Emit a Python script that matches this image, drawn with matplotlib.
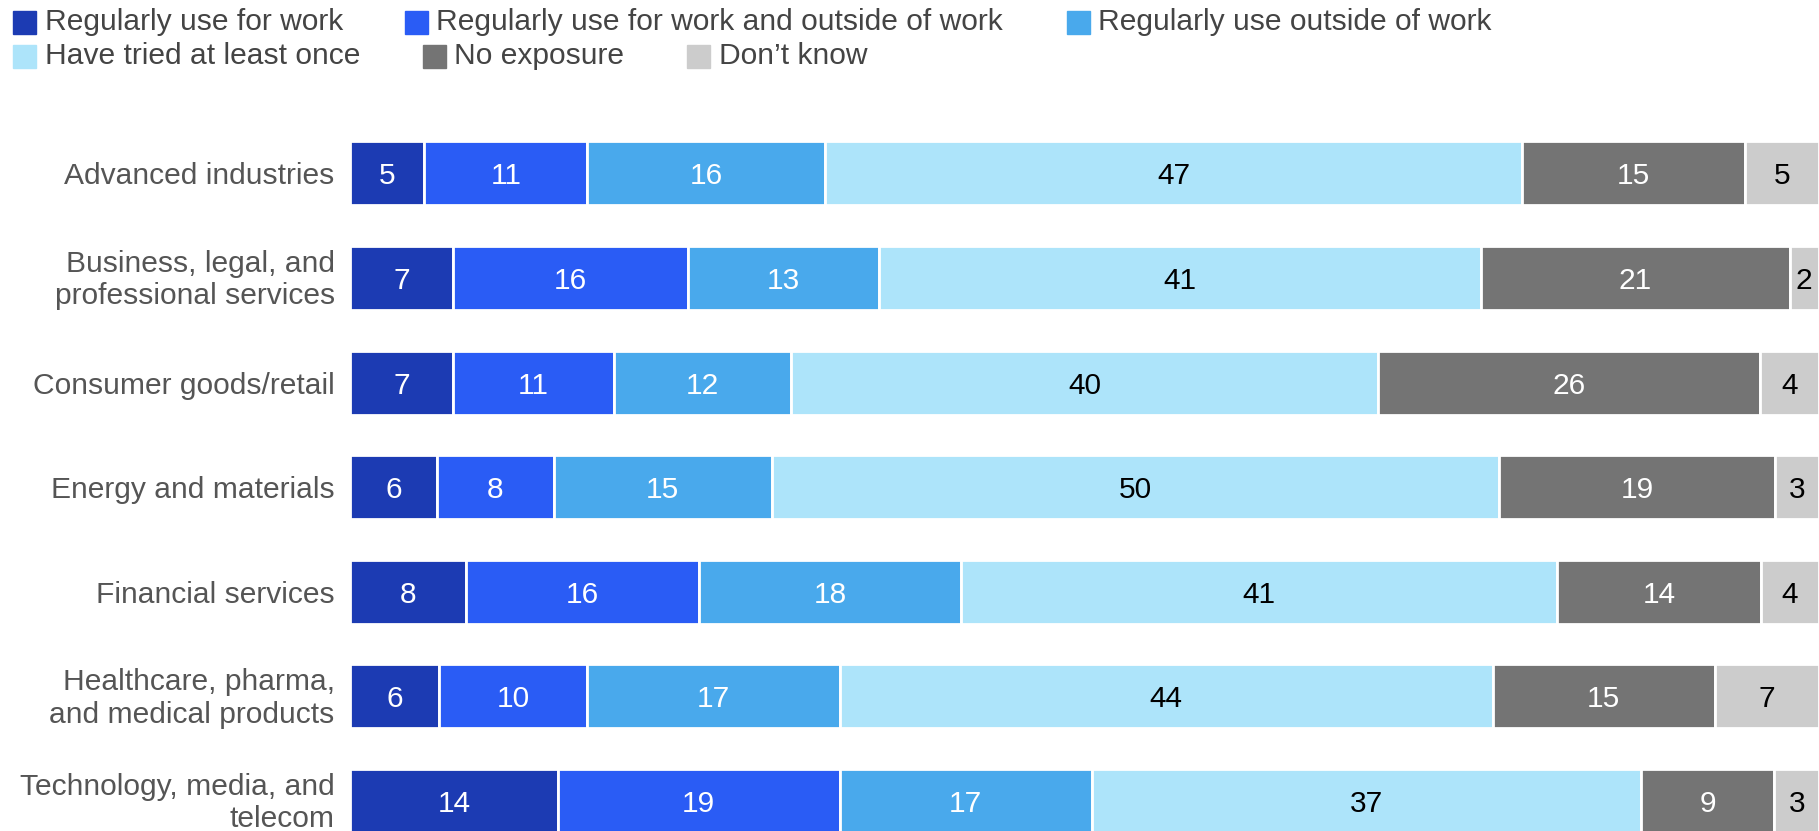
import matplotlib
matplotlib.use("Agg")
import matplotlib.pyplot as plt
import matplotlib.transforms as mtransforms
import numpy as np

plt.rcParams['font.family'] = ['Liberation Sans', 'DejaVu Sans']

categories = [
    "Advanced industries",
    "Business, legal, and\nprofessional services",
    "Consumer goods/retail",
    "Energy and materials",
    "Financial services",
    "Healthcare, pharma,\nand medical products",
    "Technology, media, and\ntelecom",
]
series_names = [
    "Regularly use for work",
    "Regularly use for work and outside of work",
    "Regularly use outside of work",
    "Have tried at least once",
    "No exposure",
    "Don\u2019t know",
]
reg_work = [5, 7, 7, 6, 8, 6, 14]
reg_both = [11, 16, 11, 8, 16, 10, 19]
reg_outside = [16, 13, 12, 15, 18, 17, 17]
tried_once = [47, 41, 40, 50, 41, 44, 37]
no_exposure = [15, 21, 26, 19, 14, 15, 9]
dont_know = [5, 2, 4, 3, 4, 7, 3]

series = [reg_work, reg_both, reg_outside, tried_once, no_exposure, dont_know]
colors = ["#1c3bb3", "#2a5cf5", "#49a9ec", "#ade4fa", "#747474", "#cccccc"]
text_colors = ["white", "white", "white", "black", "white", "black"]

W, H = 1819, 831
fig = plt.figure(figsize=(W / 100, H / 100), dpi=100)
ax = fig.add_axes([350 / W, 0, 1 - 350 / W, 1])

data = np.array(series, dtype=float)
totals = data.sum(axis=0)
norm = data / totals * 100
y = np.arange(len(categories))
left = np.zeros(len(categories))
for i, (vals, nv) in enumerate(zip(series, norm)):
    ax.barh(y, nv, left=left, height=0.612, color=colors[i],
            edgecolor="white", linewidth=2)
    for j in range(len(categories)):
        ax.text(left[j] + nv[j] / 2, y[j], str(vals[j]), ha="center",
                va="center_baseline", color=text_colors[i], fontsize=21.5)
    left += nv

ax.set_xlim(0, 100)
ax.set_ylim(6 + 30 / 104.6, -173.5 / 104.6)
ax.set_yticks(y)
ax.set_yticklabels(categories, fontsize=21.6, color="#555555", linespacing=1.22)
ax.tick_params(axis="y", length=0, pad=11)
ax.set_xticks([])
for s in ax.spines.values():
    s.set_visible(False)
offset = mtransforms.ScaledTranslation(0, 3.5 / 100, fig.dpi_scale_trans)
for lbl in ax.get_yticklabels():
    if "\n" in lbl.get_text():
        lbl.set_transform(lbl.get_transform() + offset)

# legend: (square left, center y, text left, series index)
legend_items = [
    (13, 22.5, 45, 0), (405, 22.5, 436, 1), (1067, 22.5, 1098, 2),
    (13, 56, 45, 3), (423, 56, 454, 4), (687, 56, 719, 5),
]
for sx, cy, tx, k in legend_items:
    fig.patches.append(plt.Rectangle((sx / W, 1 - (cy + 11.5) / H), 23 / W, 23 / H,
                                     transform=fig.transFigure, color=colors[k]))
    fig.text(tx / W, 1 - cy / H, series_names[k], ha="left", va="center",
             fontsize=21.6, color="#444444")

fig.savefig("out.png", dpi=100)
